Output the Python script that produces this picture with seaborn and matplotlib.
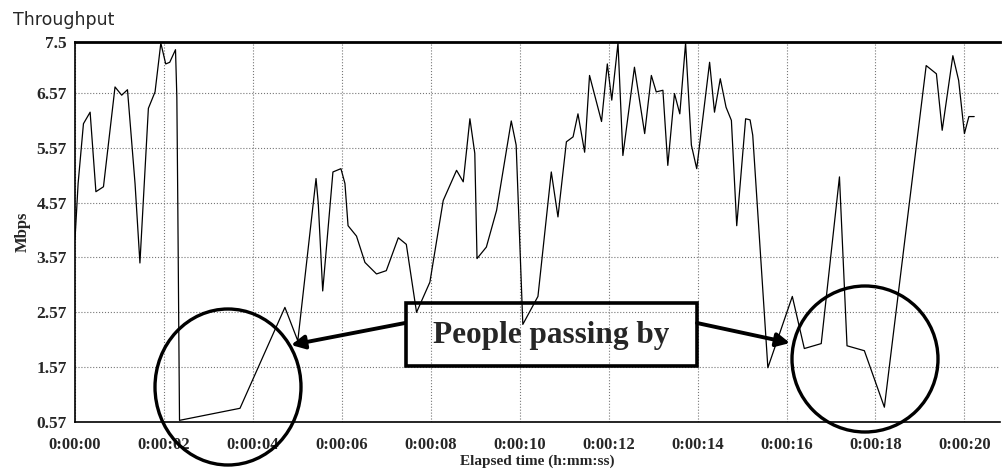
import pandas as pd
import matplotlib.pyplot as plt
import seaborn as sns
from matplotlib.patches import Ellipse, Rectangle, FancyArrowPatch

# elapsed seconds and throughput
seconds = [0.00, 0.07, 0.19, 0.34, 0.47, 0.64, 0.90, 1.05, 1.18, 1.35, 1.46, 1.65,
           1.80, 1.93, 2.04, 2.13, 2.26, 2.29, 2.31, 2.35, 3.71, 4.72, 5.01, 5.42,
           5.47, 5.57, 5.80, 5.98, 6.07, 6.14, 6.33, 6.52, 6.78, 7.00, 7.27, 7.45,
           7.68, 7.98, 8.28, 8.58, 8.73, 8.88, 8.99, 9.04, 9.25, 9.48, 9.81, 9.92,
           10.07, 10.41, 10.71, 10.86, 11.05, 11.20, 11.31, 11.46, 11.57, 11.84,
           11.97, 12.07, 12.21, 12.32, 12.58, 12.81, 12.96, 13.07, 13.22, 13.33,
           13.48, 13.60, 13.73, 13.86, 13.98, 14.27, 14.38, 14.51, 14.64, 14.76,
           14.88, 15.08, 15.18, 15.24, 15.58, 16.13, 16.40, 16.78, 17.19, 17.36,
           17.75, 18.20, 19.14, 19.37, 19.50, 19.74, 19.87, 20.00, 20.10, 20.22]
mbps = [3.90, 4.92, 6.01, 6.22, 4.77, 4.86, 6.68, 6.53, 6.63, 4.92, 3.47, 6.29,
        6.59, 7.48, 7.10, 7.13, 7.36, 6.50, 4.70, 0.60, 0.82, 2.66, 2.05, 5.01,
        4.56, 2.96, 5.13, 5.19, 4.92, 4.15, 3.96, 3.48, 3.27, 3.33, 3.93, 3.81,
        2.57, 3.12, 4.61, 5.16, 4.95, 6.10, 5.47, 3.55, 3.76, 4.43, 6.06, 5.62,
        2.35, 2.86, 5.13, 4.31, 5.68, 5.77, 6.19, 5.49, 6.89, 6.05,
        7.10, 6.44, 7.48, 5.43, 7.04, 5.83, 6.89, 6.59, 6.62, 5.25,
        6.56, 6.19, 7.48, 5.62, 5.19, 7.13, 6.22, 6.83, 6.31, 6.07,
        4.15, 6.10, 6.08, 5.80, 1.56, 2.86, 1.91, 2.00, 5.04, 1.96,
        1.87, 0.84, 7.07, 6.92, 5.89, 7.25, 6.80, 5.83, 6.14, 6.14]

time_ticks = [0, 2, 4, 6, 8, 10, 12, 14, 16, 18, 20]
time_labels = ['0:00:00', '0:00:02', '0:00:04', '0:00:06', '0:00:08', '0:00:10',
               '0:00:12', '0:00:14', '0:00:16', '0:00:18', '0:00:20']
mbps_ticks = [0.57, 1.57, 2.57, 3.57, 4.57, 5.57, 6.57, 7.5]
mbps_labels = ['0.57', '1.57', '2.57', '3.57', '4.57', '5.57', '6.57', '7.5']

sns.set_style('white')
plt.rcParams['font.family'] = ['Liberation Serif', 'DejaVu Sans']

W, H = 1002, 470
fig = plt.figure(figsize=(W / 100, H / 100), dpi=100)
ax = fig.add_axes([75 / W, 1 - 422 / H, (1000 - 75) / W, (422 - 42) / H])

df = pd.DataFrame({'t': seconds, 'mbps': mbps})
sns.lineplot(data=df, x='t', y='mbps', color='black', lw=0.9, estimator=None, ax=ax)

ax.set_xlim(0, 20.8)
ax.set_ylim(0.57, 7.5)
ax.set_xticks(time_ticks, time_labels, fontsize=12, fontweight='bold')
ax.set_yticks(mbps_ticks, mbps_labels, fontsize=12.5, fontweight='bold')
ax.tick_params(axis='both', length=3, width=1, pad=3, color='black', direction='out')
ax.tick_params(axis='x', pad=8)
ax.grid(True, ls=':', color='#777777', lw=0.8)
ax.set_xlabel('Elapsed time (h:mm:ss)', fontsize=11, fontweight='bold', labelpad=1)
ax.set_ylabel('Mbps', fontsize=12, fontweight='bold', labelpad=4)

for side in ['left', 'bottom']:
    ax.spines[side].set_color('black')
    ax.spines[side].set_linewidth(1.2)
ax.spines['top'].set_color('black')
ax.spines['top'].set_linewidth(2)
ax.spines['right'].set_visible(False)

fig.text(13 / W, 1 - 20 / H, 'Throughput', fontsize=12.5, family='DejaVu Sans', va='center')

# annotation: box, arrows and circles (figure pixel layout)
box = Rectangle((406 / W, 1 - 366 / H), 291 / W, 63 / H, transform=fig.transFigure,
                fill=False, ec='black', lw=2.6)
fig.add_artist(box)
fig.text(551.5 / W, 1 - 336 / H, 'People passing by', fontsize=22.5, fontweight='bold',
         ha='center', va='center')

for start, end in [((405, 323), (291, 345)), ((697, 323), (790, 343))]:
    arr = FancyArrowPatch((start[0] / W, 1 - start[1] / H), (end[0] / W, 1 - end[1] / H),
                          transform=fig.transFigure, arrowstyle='-|>', mutation_scale=20,
                          lw=2.8, color='black', shrinkA=0, shrinkB=0)
    fig.add_artist(arr)

for cx, cy, w, h in [(228, 387, 146, 156), (865, 359, 146, 146)]:
    circ = Ellipse((cx / W, 1 - cy / H), w / W, h / H, transform=fig.transFigure,
                   fill=False, ec='black', lw=2.4)
    fig.add_artist(circ)

fig.savefig('out.png', dpi=100)
plt.close()
